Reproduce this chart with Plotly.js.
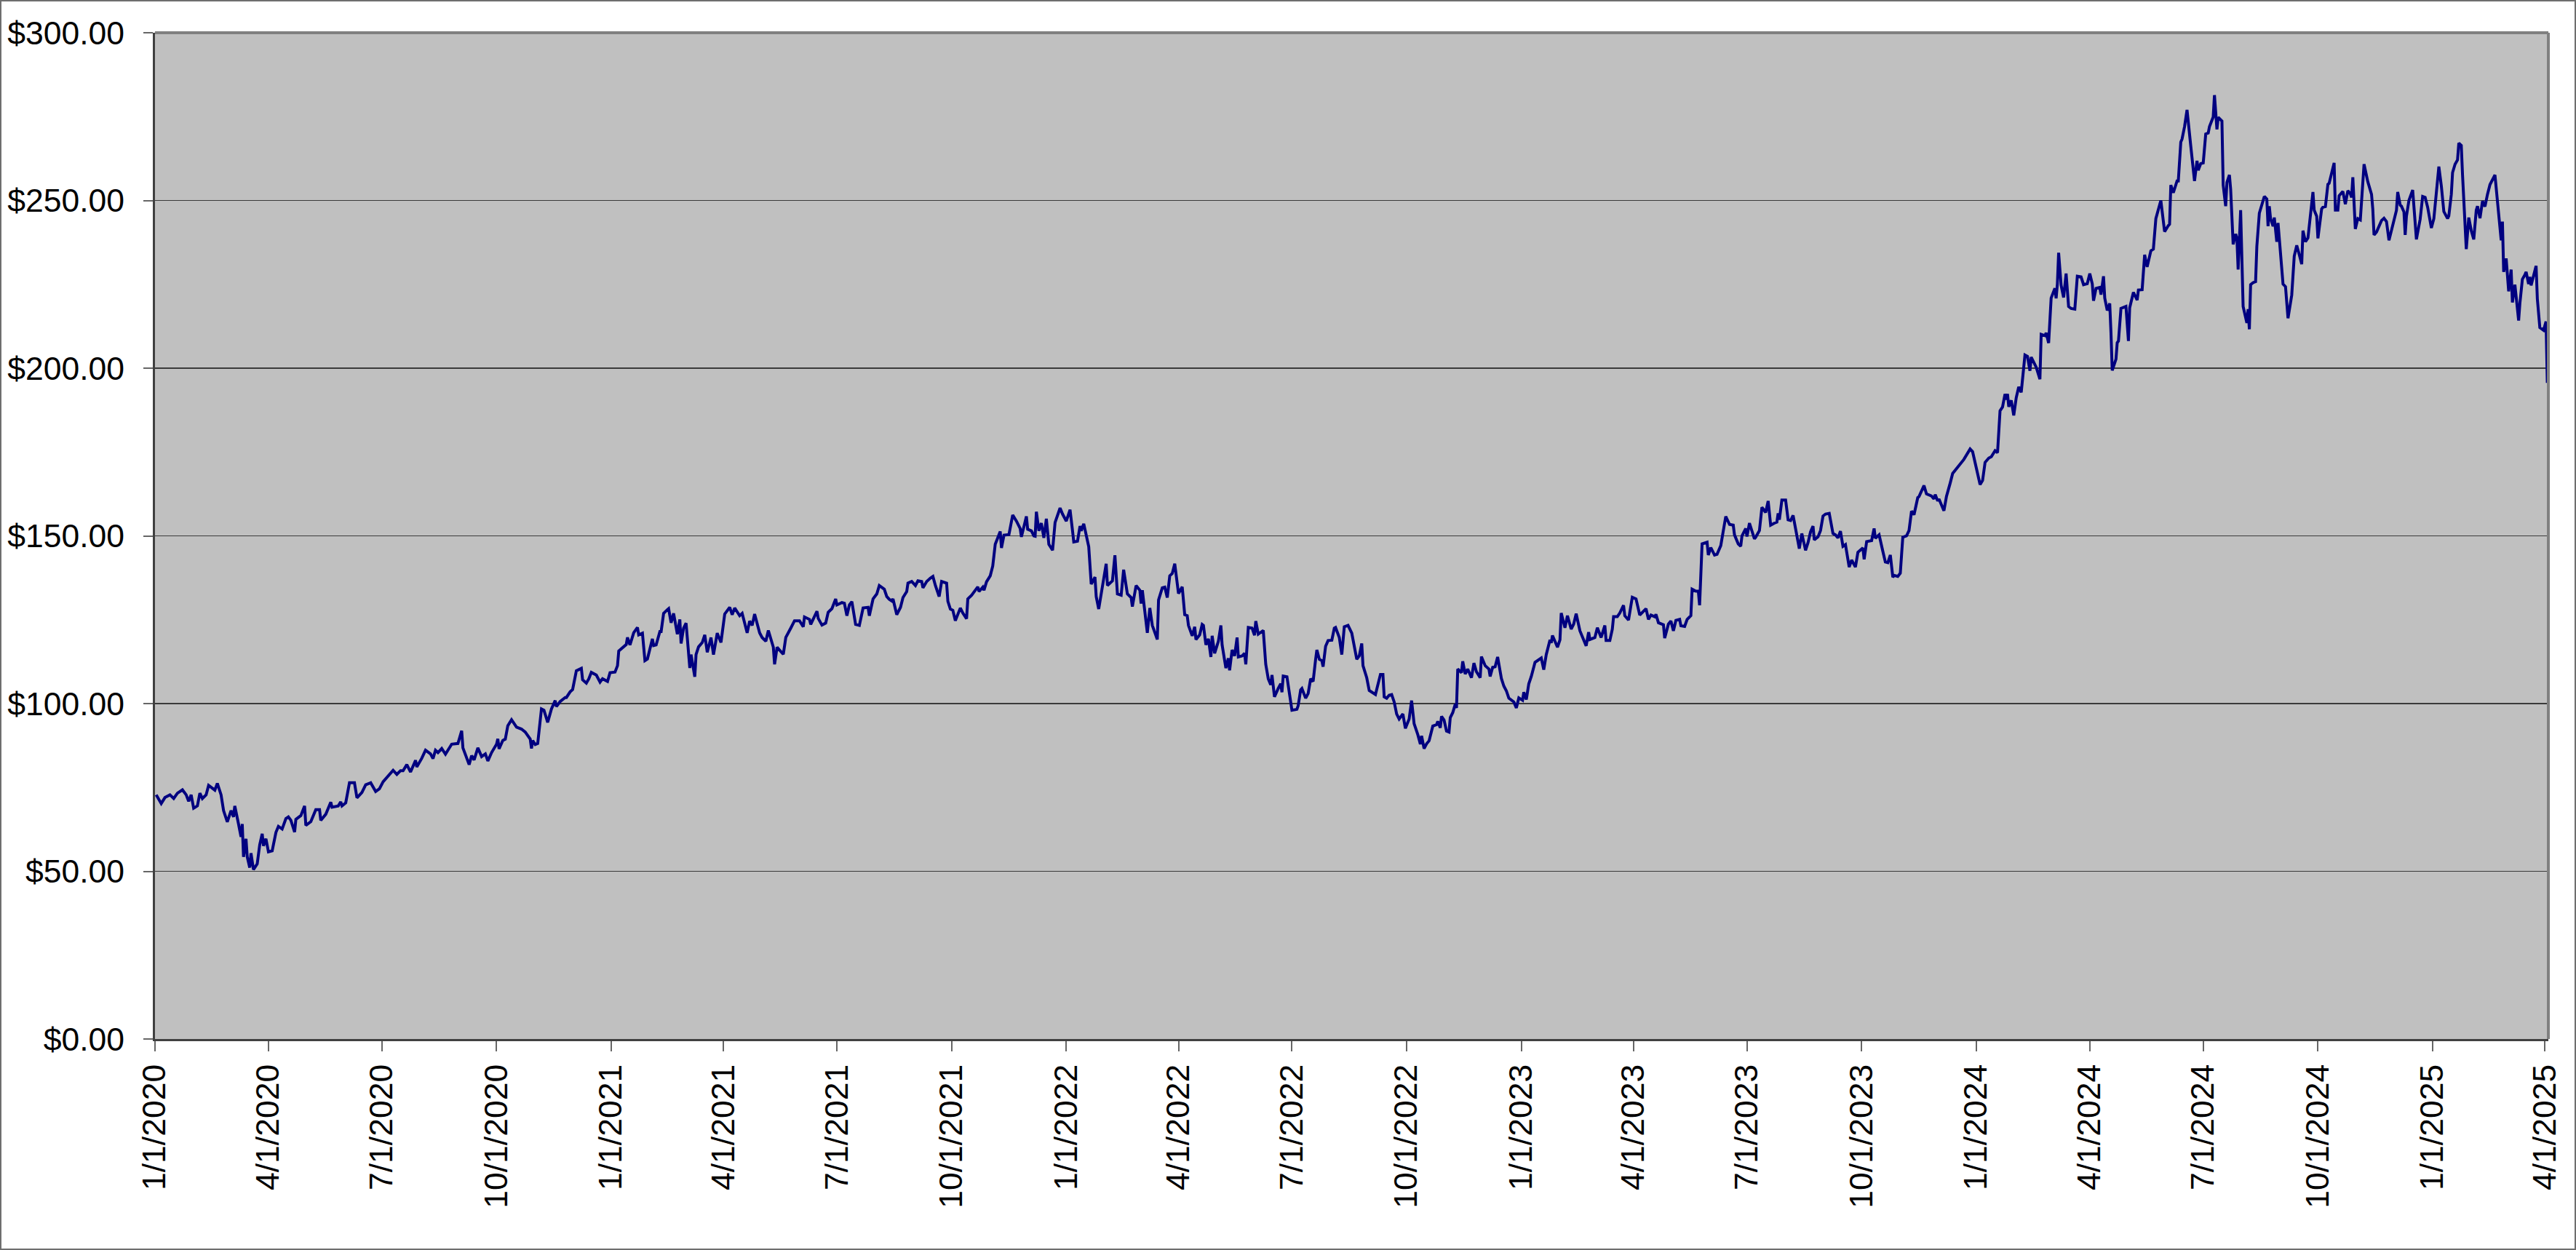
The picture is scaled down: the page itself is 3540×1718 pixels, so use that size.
<!DOCTYPE html>
<html>
<head>
<meta charset="utf-8">
<script src="https://cdn.plot.ly/plotly-3.0.1.min.js"></script>
<style>
  body { margin: 0; background: #ffffff; }
  #frame { width: 3540px; height: 1718px; box-sizing: border-box; border: 2px solid #6e6e6e; background: #ffffff; }
  #chart { width: 3536px; height: 1714px; }
</style>
</head>
<body>
<div id="frame"><div id="chart"></div></div>
<script>
// days counted from 1/1/2020 (day 0)
var dayNumber = [
  // 2020
  1,5,8,12,15,18,22,25,27,29,
  31,34,36,38,41,43,48,50,53,55,
  58,61,63,64,67,69,70,71,73,74,
  76,77,79,82,84,86,87,89,91,94,
  97,99,102,105,107,109,112,113,117,120,
  121,125,129,132,133,137,141,142,147,149,
  150,153,156,160,162,166,169,173,177,180,
  183,187,189,191,194,197,199,202,205,209,
  210,214,217,221,223,225,227,230,233,238,
  243,246,247,250,252,254,256,259,262,265,
  267,270,274,275,276,279,281,283,286,290,
  294,297,301,302,303,305,307,310,312,315,
  317,318,321,322,325,329,330,333,335,336,
  338,342,343,346,348,350,354,357,359,
  // 2021
  363,365,369,371,372,376,378,379,381,384,
  387,388,391,393,395,399,400,402,405,406,
  408,411,412,414,416,419,421,422,424,426,
  429,430,433,434,436,439,441,443,446,448,
  451,454,457,461,463,465,469,471,475,477,
  479,481,485,487,490,492,496,497,499,504,
  506,510,513,517,520,521,525,526,531,532,
  535,538,540,543,546,547,551,553,555,557,
  559,562,565,568,572,573,576,579,581,585,
  587,589,591,592,595,598,600,603,604,607,
  610,612,615,616,619,622,624,626,629,631,
  635,636,638,640,642,646,648,651,652,655,
  658,660,661,664,665,667,670,672,674,676,
  678,679,681,685,686,688,691,694,695,699,
  700,703,705,706,707,709,711,713,715,717,
  720,722,
  // 2022
  726,728,731,734,736,737,740,742,743,745,
  749,751,754,755,757,761,763,764,768,770,
  772,775,777,780,783,784,787,790,791,792,
  794,796,798,800,804,805,808,810,812,814,
  816,818,821,824,826,828,829,832,834,835,
  838,840,841,843,845,847,848,850,853,855,
  856,859,861,862,864,866,868,869,872,874,
  875,877,880,882,883,885,889,891,893,895,
  896,898,901,903,904,905,908,910,912,916,
  917,919,920,923,925,927,929,931,932,934,
  936,937,939,941,944,946,947,950,952,954,
  957,960,962,964,966,968,969,972,974,979,
  983,985,986,988,990,992,994,996,998,1001,
  1003,1006,1008,1010,1013,1015,1016,1018,1020,1022,
  1025,1028,1029,1031,1032,1034,1036,1038,1039,1041,
  1043,1044,1045,1048,1049,1051,1053,1056,1058,1060,
  1063,1064,1067,1070,1071,1073,1075,1077,1080,1082,
  1084,1086,1090,
  // 2023
  1092,1094,1097,1098,1100,1102,1104,1107,1112,1114,
  1116,1119,1120,1121,1125,1127,1128,1131,1133,1136,
  1138,1140,1143,1148,1150,1151,1155,1157,1160,1163,
  1164,1167,1169,1170,1173,1175,1178,1179,1182,1185,
  1188,1191,1193,1196,1198,1200,1203,1204,1206,1210,
  1211,1214,1216,1218,1220,1223,1224,1227,1229,1232,
  1233,1236,1238,1239,1241,1245,1246,1248,1251,1253,
  1256,1258,1260,1263,1266,1267,1270,1272,1273,1276,
  1277,1279,1283,1284,1287,1289,1292,1294,1296,1299,
  1301,1302,1303,1305,1308,1310,1312,1314,1317,1319,
  1321,1324,1326,1328,1330,1331,1334,1336,1338,1340,
  1343,1346,1348,1350,1352,1354,1356,1359,1361,1364,
  1366,1370,1371,1373,1377,1379,1380,1383,1386,1388,
  1390,1392,1394,1395,1398,1400,1402,1405,1407,1409,
  1411,1414,1415,1419,1421,1425,1427,1428,1430,1431,
  1435,1437,1440,1442,
  // 2024
  1451,1456,1458,1462,1464,1466,1468,1471,1473,1476,
  1478,1480,1482,1484,1485,1486,1487,1489,1491,1493,
  1495,1497,1498,1500,1502,1504,1505,1509,1512,1513,
  1516,1517,1519,1521,1524,1525,1526,1527,1529,1531,
  1533,1535,1537,1540,1542,1545,1547,1550,1552,1554,
  1555,1557,1560,1561,1563,1564,1566,1568,1569,1570,
  1573,1574,1575,1577,1581,1583,1584,1587,1590,1591,
  1594,1596,1598,1601,1603,1605,1609,1612,1615,1616,
  1617,1619,1622,1623,1625,1626,1628,1630,1633,1636,
  1638,1639,1641,1643,1645,1647,1648,1651,1652,1654,
  1655,1658,1659,1661,1662,1664,1665,1667,1669,1670,
  1671,1673,1675,1678,1679,1680,1681,1683,
  // late 2024 - 2025
  1685,1686,1688,1692,1694,1695,1696,1697,1699,1700,
  1702,1703,1707,1709,1711,1714,1716,1718,1720,1722,
  1723,1725,1727,1729,1731,1732,1734,1735,1738,1739,
  1741,1743,1744,1748,1749,1751,1752,1755,1757,1759,
  1761,1762,1763,1765,1767,1769,1772,1775,1778,1779,
  1780,1782,1784,1786,1788,1790,1792,1795,1798,1799,
  1801,1802,1804,1805,1806,1808,1811,1814,1817,1819,
  1821,1823,1824,1826,1828,1830,1832,1834,1836,1839,
  1840,1842,1843,1845,1847,1848,1850,1851,1854,1856,
  1858,1860,1862,1863,1865,1867,1869,1871,1873,1877,
  1879,1881,1882,1883,1884,1886,1888,1890,1891,1893,
  1896,1897,1899,1901,1902,1904,1905,1906,1908,1910,
  1911,1913,1916,1918,1919
];

var closePrice = [
  // 2020
  72.8,70.2,72.0,72.8,71.7,73.3,74.3,72.8,70.9,72.8,
  68.8,69.5,73.3,71.7,72.8,75.6,74.2,76.2,72.8,68.1,
  64.7,68.1,66.2,69.5,64.1,60.3,64.1,54.3,59.7,54.3,
  51.1,55.4,50.5,52.2,57.9,61.2,57.6,59.7,55.8,56.1,
  61.6,63.4,62.6,65.7,66.2,65.2,61.7,65.5,66.6,69.5,
  63.7,64.8,68.4,68.4,65.2,67.0,70.6,69.1,69.5,70.7,
  69.5,70.4,76.4,76.4,71.9,73.5,75.8,76.4,73.8,74.6,
  76.7,78.5,79.3,80.1,78.9,80.0,80.0,81.8,79.6,83.1,
  81.1,83.7,86.1,85.0,83.6,86.1,85.4,86.6,84.9,87.9,
  88.1,91.9,86.8,83.7,81.8,84.5,83.2,86.8,84.2,85.0,
  82.9,85.4,87.9,89.5,86.5,89.0,89.4,93.4,95.2,93.0,
  92.4,91.5,89.4,86.6,89.0,87.8,88.1,98.4,98.0,94.4,
  97.7,98.4,100.9,99.1,100.6,101.8,101.8,103.5,104.2,106.4,
  109.8,110.5,107.1,106.1,107.4,109.3,108.5,106.4,107.4,
  // 2021
  106.6,109.2,109.4,111.3,115.7,117.1,117.6,119.7,117.5,121.1,
  122.7,120.5,121.0,112.8,113.3,119.3,117.3,117.5,121.5,121.5,
  126.9,128.0,128.3,124.1,126.9,120.7,125.1,117.9,122.5,124.0,
  110.6,114.6,108.0,114.6,116.9,118.2,120.5,115.3,119.7,114.6,
  121.0,118.2,126.7,128.7,126.5,128.5,126.2,126.9,121.1,124.6,
  123.3,126.7,121.1,119.7,118.6,121.8,116.8,111.7,116.8,114.7,
  119.7,122.5,124.7,124.7,122.9,125.8,125.1,123.6,127.5,125.4,
  123.4,124.0,127.2,128.3,131.2,129.4,130.1,129.9,126.2,129.4,
  130.4,123.6,123.3,128.5,128.7,126.2,131.2,132.7,135.2,134.1,
  131.9,131.1,130.6,131.2,126.5,128.7,131.6,133.4,135.9,136.4,
  135.2,136.6,136.4,134.5,136.4,137.4,137.9,135.2,131.9,136.4,
  135.9,130.5,128.2,127.8,124.7,128.5,127.0,125.3,131.2,132.3,
  133.8,134.8,133.4,134.7,133.8,136.3,138.1,141.0,147.5,149.3,
  151.3,146.4,150.2,150.4,152.2,156.2,154.4,152.2,149.7,155.8,
  152.0,151.5,150.0,149.9,157.2,151.5,153.8,149.4,155.1,147.5,
  145.7,154.0,
  // 2022
  158.3,156.5,154.4,157.8,151.5,148.2,148.4,152.9,151.5,153.6,
  146.8,135.6,137.7,131.9,128.2,137.7,141.7,135.2,136.6,144.2,
  132.7,132.3,139.9,132.7,131.6,128.9,135.2,133.8,129.8,133.8,
  126.5,121.1,128.5,123.3,119.1,130.9,134.5,134.7,131.6,138.1,
  138.8,141.7,132.8,134.8,126.5,126.2,123.3,120.2,122.9,119.1,
  120.5,123.6,123.3,117.5,119.3,113.9,120.2,115.0,118.6,123.3,
  117.5,110.6,113.5,109.9,116.0,114.2,119.7,113.9,114.2,115.0,
  111.7,122.7,122.5,120.4,124.6,120.7,121.8,111.7,107.4,105.6,
  108.5,102.0,104.5,105.9,103.4,108.2,108.0,103.0,98.0,98.3,
  99.4,104.1,104.5,101.6,103.0,107.4,106.6,113.2,116.0,113.2,
  112.8,111.0,117.1,118.8,118.9,122.5,122.7,119.7,114.6,122.9,
  123.3,121.0,117.1,113.2,114.2,117.9,111.3,107.7,103.9,102.7,
  108.7,108.7,102.0,101.6,102.5,102.7,100.5,96.9,95.4,96.9,
  92.6,95.4,100.9,94.0,90.7,87.9,90.4,86.6,88.0,88.9,
  93.3,93.7,94.7,92.8,96.2,95.1,91.8,91.5,95.8,97.3,
  99.8,98.7,110.3,109.2,112.6,108.8,110.3,107.7,112.1,109.5,
  107.7,114.0,111.3,110.3,108.1,110.8,111.0,113.9,107.5,105.2,
  103.8,101.6,100.5,
  // 2023
  98.7,101.7,101.0,103.4,101.2,105.9,108.1,112.3,113.6,110.1,
  114.6,119.0,118.1,120.3,116.8,119.0,127.0,122.6,126.2,122.2,
  123.7,126.8,121.7,117.2,121.3,119.1,119.7,122.6,119.7,123.3,
  118.8,118.8,122.2,125.9,125.9,127.0,129.3,126.2,124.9,131.7,
  131.2,126.4,127.1,128.3,125.1,126.4,125.9,126.6,124.1,123.5,
  119.5,123.7,124.6,121.7,124.8,125.1,123.2,123.0,125.1,126.2,
  134.1,133.5,133.5,129.3,147.6,148.1,144.3,146.5,144.3,144.5,
  147.1,150.9,155.8,153.4,153.2,150.3,147.6,146.9,150.0,152.2,
  149.8,153.8,149.1,149.6,151.6,158.5,157.0,160.4,153.2,153.8,
  154.1,156.7,154.8,160.7,160.7,154.8,154.6,156.1,150.0,146.2,
  150.7,145.7,148.0,151.2,152.9,148.8,149.7,151.6,155.9,156.5,
  156.7,150.7,150.3,149.4,151.4,146.9,147.4,140.7,142.8,140.7,
  145.1,146.4,143.0,148.3,148.6,152.2,149.3,150.3,145.4,142.2,
  142.0,144.3,137.7,138.2,137.9,138.9,149.6,150.0,151.6,157.4,
  156.3,161.4,161.7,165.0,162.5,161.9,161.0,162.3,160.4,161.0,
  157.5,161.7,165.7,168.6,
  // 2024
  172.8,175.9,175.1,169.0,165.3,166.5,171.9,173.2,173.6,175.4,
  174.8,187.3,188.4,192.3,190.6,192.3,188.5,190.4,185.9,191.2,
  194.4,192.8,197.3,203.9,203.5,199.2,203.3,200.3,196.7,210.1,
  209.7,210.5,207.5,220.9,223.8,220.8,225.1,234.4,224.7,221.1,
  228.2,218.4,217.8,217.6,227.4,227.2,224.9,225.2,228.2,225.1,
  220.1,223.8,224.1,221.9,227.4,220.9,217.2,219.3,210.5,199.3,
  202.7,207.6,208.1,217.8,218.4,208.1,218.0,222.6,220.3,223.3,
  223.4,233.8,230.2,235.0,235.5,244.6,250.0,240.7,242.5,242.9,
  254.6,252.3,255.8,255.8,267.4,268.3,272.0,277.0,266.2,255.8,
  261.8,259.0,261.0,261.2,269.8,270.1,272.0,274.9,281.4,271.2,
  274.8,273.7,254.6,248.3,255.4,257.6,253.3,236.9,240.0,238.8,
  229.4,247.1,218.4,213.5,217.6,211.6,224.9,225.5,
  // late 2024 - 2025
  225.8,236.3,246.2,251.2,250.4,242.3,248.3,244.6,242.3,244.9,
  237.7,243.3,225.1,224.3,214.9,221.8,233.4,236.6,233.9,231.0,
  241.0,237.7,238.8,244.9,252.5,247.1,245.3,238.7,247.5,248.0,
  248.2,254.8,255.1,261.2,247.1,247.1,251.4,252.7,248.9,252.9,
  252.0,250.9,256.9,241.5,244.6,244.2,260.8,255.6,251.8,247.5,
  239.7,240.6,242.4,244.0,244.7,243.7,238.1,242.6,247.1,252.5,
  248.6,248.3,246.6,239.7,245.3,250.0,253.1,238.4,244.4,251.2,
  250.9,248.0,246.0,241.8,244.6,253.4,260.1,254.3,246.7,244.6,
  245.4,251.8,258.3,260.8,262.1,267.1,266.4,257.6,235.5,244.9,
  241.0,238.4,247.1,248.3,244.7,249.8,248.2,251.8,254.7,257.6,
  249.6,242.4,238.1,243.7,228.7,232.7,222.9,229.4,219.6,224.9,
  214.2,219.3,226.5,227.8,228.7,225.1,227.2,224.7,228.0,230.5,
  220.7,212.1,211.3,213.9,195.6
];

var xTickLabels = ['1/1/2020','4/1/2020','7/1/2020','10/1/2020','1/1/2021','4/1/2021','7/1/2021','10/1/2021',
  '1/1/2022','4/1/2022','7/1/2022','10/1/2022','1/1/2023','4/1/2023','7/1/2023','10/1/2023',
  '1/1/2024','4/1/2024','7/1/2024','10/1/2024','1/1/2025','4/1/2025'];
var yTicks = [0, 50, 100, 150, 200, 250, 300];
var yTickLabels = ['$0.00', '$50.00', '$100.00', '$150.00', '$200.00', '$250.00', '$300.00'];

function dayToDate(d){
  var t = new Date(Date.UTC(2020, 0, 1) + d * 86400000);
  return t.toISOString().slice(0, 10);
}

function labelToDate(s){
  var p = s.split('/');
  return p[2] + '-' + ('0' + p[0]).slice(-2) + '-' + ('0' + p[1]).slice(-2);
}

var fechas = dayNumber.map(dayToDate);
var tickDates = xTickLabels.map(labelToDate);

var data = [{
  type: 'scatter',
  mode: 'lines',
  x: fechas,
  y: closePrice,
  line: {color: '#000080', width: 4},
  hoverinfo: 'x+y'
}];

var fonte = {family: 'Liberation Sans, Arial, sans-serif', size: 44.5, color: '#000000'};

var layout = {
  width: 3536,
  height: 1714,
  margin: {l: 211, r: 36, t: 43, b: 288},
  paper_bgcolor: '#ffffff',
  plot_bgcolor: '#c0c0c0',
  showlegend: false,
  font: fonte,
  xaxis: {
    type: 'date',
    range: ['2020-01-01', '2025-04-03 20:00'],
    tickvals: tickDates,
    ticktext: xTickLabels,
    tickangle: -90,
    ticks: 'outside', ticklen: 14, tickwidth: 2, tickcolor: '#666666',
    showline: true, linecolor: '#404040', linewidth: 3,
    showgrid: false, zeroline: false,
    tickfont: fonte
  },
  yaxis: {
    range: [0, 300],
    tickvals: yTicks,
    ticktext: yTickLabels,
    ticks: 'outside', ticklen: 13, tickwidth: 2, tickcolor: '#666666',
    ticklabelstandoff: 17,
    showline: true, linecolor: '#404040', linewidth: 3,
    showgrid: true, gridcolor: '#3a3a3a', gridwidth: 1.5,
    zeroline: false,
    tickfont: fonte
  },
  shapes: [
    {type: 'line', xref: 'paper', yref: 'paper', x0: 0, x1: 1, y0: 1, y1: 1, line: {color: '#808080', width: 4}},
    {type: 'line', xref: 'paper', yref: 'paper', x0: 1, x1: 1, y0: 0, y1: 1, line: {color: '#808080', width: 4}}
  ]
};

Plotly.newPlot('chart', data, layout, {displayModeBar: false, staticPlot: true});
</script>
</body>
</html>
